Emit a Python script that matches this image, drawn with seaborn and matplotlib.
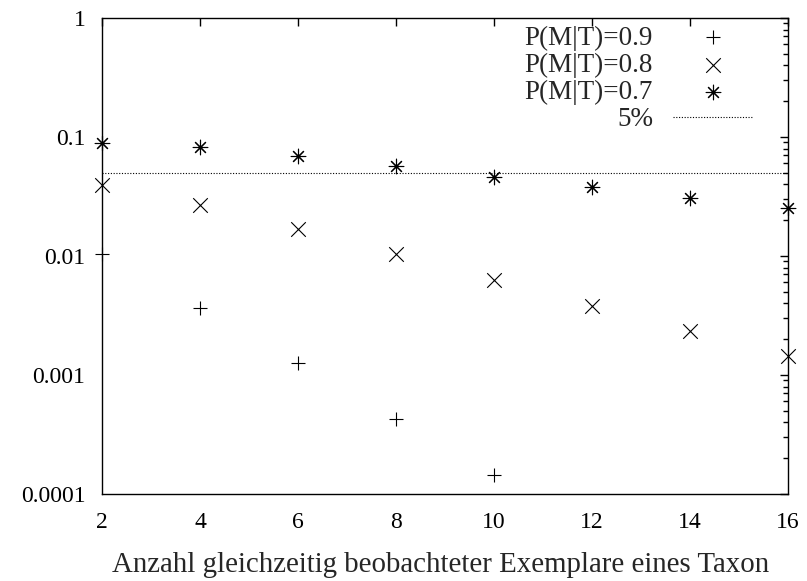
import matplotlib
matplotlib.use("Agg")
import matplotlib.pyplot as plt
import seaborn as sns
import pandas as pd
from matplotlib.ticker import FixedLocator, FuncFormatter, LogLocator, NullFormatter

# Dati
anzahl = [2, 4, 6, 8, 10, 12, 14, 16]
p_09_x = [2, 4, 6, 8, 10]
p_09 = [0.0104, 0.00366, 0.00127, 0.00043, 0.000145]
p_08 = [0.0395, 0.0268, 0.0169, 0.0103, 0.0063, 0.0038, 0.00234, 0.00145]
p_07 = [0.089, 0.0824, 0.0691, 0.057, 0.046, 0.038, 0.031, 0.0253]
soglia = 0.05

x_ticks = [2, 4, 6, 8, 10, 12, 14, 16]
y_ticks = [0.0001, 0.001, 0.01, 0.1, 1]

sns.set_theme(style="white")
plt.rcParams['font.family'] = ['Liberation Serif', 'DejaVu Serif']

fig = plt.figure(figsize=(8.07, 5.81), dpi=100)
ax = fig.add_axes([102 / 807, 1 - 494 / 581, 686 / 807, 476 / 581])

asterisco = (8, 2, 0)
serie = [
    (p_09_x, p_09, '+', 'P(M|T)=0.9'),
    (anzahl, p_08, 'x', 'P(M|T)=0.8'),
    (anzahl, p_07, asterisco, 'P(M|T)=0.7'),
]
for xs, ys, m, lab in serie:
    df = pd.DataFrame({'x': xs, 'y': ys})
    sns.scatterplot(data=df, x='x', y='y', marker=m, s=110, color='black',
                    linewidths=0.8, label=lab, ax=ax, clip_on=False, zorder=3)

ax.axhline(soglia, color='black', linestyle=(0, (1, 1.5)), linewidth=0.8, label='5%')

ax.set_yscale('log')
ax.set_xlim(2, 16)
ax.set_ylim(0.0001, 1)

ax.xaxis.set_major_locator(FixedLocator(x_ticks))
ax.yaxis.set_major_locator(FixedLocator(y_ticks))
ax.yaxis.set_major_formatter(FuncFormatter(lambda v, _: f"{v:g}"))
ax.yaxis.set_minor_locator(LogLocator(base=10, subs=range(2, 10)))
ax.yaxis.set_minor_formatter(NullFormatter())

ax.tick_params(axis='both', which='both', direction='in', colors='black',
               top=True, right=True, labelsize=17)
ax.tick_params(axis='both', which='major', length=6, width=1.0)
ax.tick_params(axis='y', which='minor', length=3.5, width=1.0)
ax.tick_params(axis='y', which='major', pad=12)
ax.tick_params(axis='x', which='major', pad=13)

for sp in ax.spines.values():
    sp.set_color('black')
    sp.set_linewidth(1.0)

ax.set_xlabel("Anzahl gleichzeitig beobachteter Exemplare eines Taxon", fontsize=20.75)
ax.xaxis.set_label_coords(0.494, -0.149)
ax.xaxis.label.set_va('center')
ax.set_ylabel("")

ax.legend(loc='upper right', bbox_to_anchor=(0.953, 0.99), frameon=False,
          markerfirst=False, fontsize=19.5, handlelength=2.95, handletextpad=0.74,
          labelspacing=0.08, borderaxespad=0, borderpad=0.1)

fig.savefig("out.png", dpi=100)
